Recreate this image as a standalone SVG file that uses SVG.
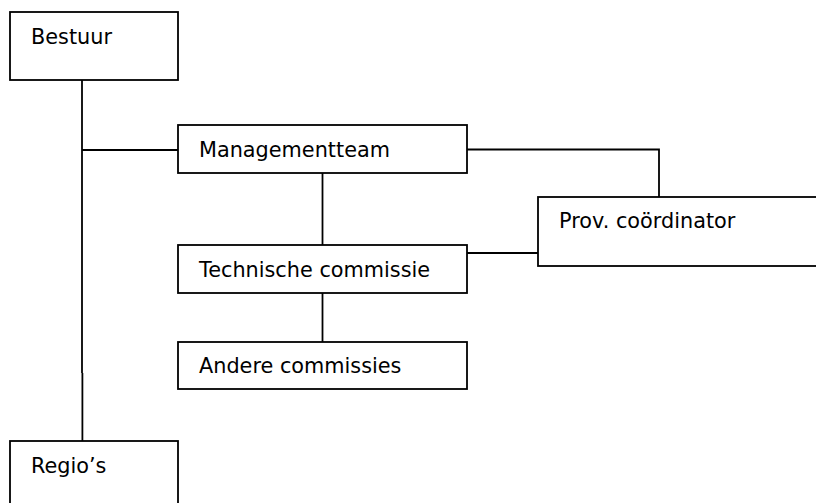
<svg xmlns="http://www.w3.org/2000/svg" width="816" height="503" viewBox="0 0 816 503">
<style>
.box{fill:#fff;stroke:#000;stroke-width:1.8}
.ln{fill:none;stroke:#000;stroke-width:1.8}
text{font-family:"DejaVu Sans",Verdana,sans-serif;font-size:20.8px;fill:#000}
</style>
<rect width="816" height="503" fill="#fff"/>
<g id="connectors">
<line class="ln" x1="82" y1="80" x2="82" y2="373"/>
<line class="ln" x1="82.4" y1="373" x2="82.4" y2="441"/>
<line class="ln" x1="82" y1="150" x2="178" y2="150"/>
<line class="ln" x1="322.5" y1="173" x2="322.5" y2="245"/>
<line class="ln" x1="322.5" y1="293" x2="322.5" y2="342"/>
<polyline class="ln" points="467,149.5 659,149.5 659,197"/>
<line class="ln" x1="467" y1="253" x2="538" y2="253"/>
</g>
<g id="bestuur"><rect class="box" x="10" y="12" width="168" height="68"/><text x="31" y="44">Bestuur</text></g>
<g id="managementteam"><rect class="box" x="178" y="125" width="289" height="48"/><text x="199" y="157">Managementteam</text></g>
<g id="prov"><rect class="box" x="538" y="197" width="300" height="69"/><text x="559" y="228">Prov. coördinator</text></g>
<g id="technische"><rect class="box" x="178" y="245" width="289" height="48"/><text x="199" y="277">Technische commissie</text></g>
<g id="andere"><rect class="box" x="178" y="342" width="289" height="47"/><text x="199" y="373">Andere commissies</text></g>
<g id="regios"><rect class="box" x="10" y="441" width="168" height="80"/><text x="31" y="473">Regio’s</text></g>
</svg>
